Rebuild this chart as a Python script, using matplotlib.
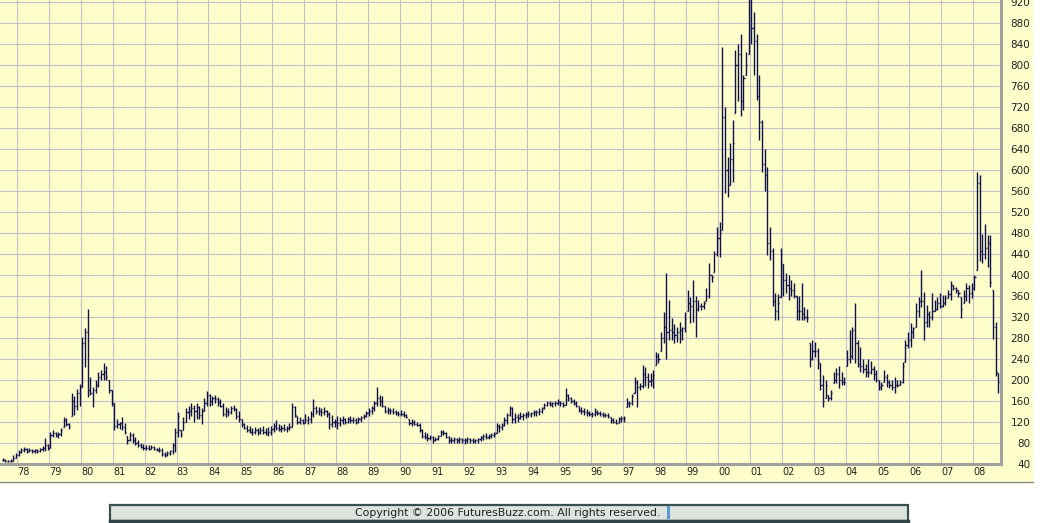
import numpy as np
import matplotlib.pyplot as plt
from matplotlib.patches import Rectangle
from matplotlib.lines import Line2D

## monthly bars, Jul 1977 .. Oct 2008
first_month = 1977 + 6 / 12.0

high = [
    50, 48, 47, 48, 56, 60,                                   # 1977 Jul-Dec
    66, 70, 71, 69, 70, 68, 68, 68, 70, 74, 88, 78,           # 1978
    100, 104, 100, 100, 108, 128, 126, 118, 175, 168, 182, 192,  # 1979
    281, 298, 334, 205, 186, 199, 214, 218, 231, 225, 199, 180,  # 1980
    155, 125, 120, 128, 117, 92, 100, 98, 90, 85, 80, 78,     # 1981
    75, 76, 76, 74, 70, 72, 70, 62, 64, 66, 80, 108,          # 1982
    138, 104, 128, 145, 150, 155, 152, 155, 150, 145, 165, 178,  # 1983
    172, 168, 170, 167, 162, 155, 148, 146, 150, 152, 145, 140,  # 1984
    125, 118, 114, 112, 108, 110, 108, 110, 112, 108, 110, 112,  # 1985
    118, 122, 116, 114, 116, 112, 118, 156, 150, 130, 128, 125,  # 1986
    135, 130, 140, 162, 150, 148, 145, 148, 142, 138, 132, 125,  # 1987
    130, 128, 130, 126, 128, 130, 128, 126, 128, 130, 134, 140,  # 1988
    145, 150, 160, 186, 170, 168, 150, 148, 146, 145, 142, 140,  # 1989
    142, 140, 135, 125, 124, 122, 120, 118, 105, 100, 98, 95,    # 1990
    92, 90, 94, 104, 104, 100, 92, 90, 90, 88, 90, 88,        # 1991
    88, 90, 88, 88, 86, 88, 92, 96, 98, 96, 98, 100,          # 1992
    118, 115, 118, 128, 136, 150, 148, 136, 135, 138, 136, 138,  # 1993
    140, 138, 142, 142, 145, 148, 156, 160, 160, 158, 160, 162,  # 1994
    160, 158, 183, 172, 166, 162, 160, 150, 148, 146, 144, 140,  # 1995
    138, 145, 142, 140, 138, 136, 136, 128, 126, 124, 128, 130,  # 1996
    130, 164, 160, 173, 205, 199, 193, 228, 224, 212, 212, 218,  # 1997
    252, 250, 290, 328, 403, 351, 318, 305, 300, 310, 300, 328,  # 1998
    370, 358, 390, 360, 351, 345, 350, 375, 421, 400, 445, 490,  # 1999
    500, 834, 719, 624, 650, 694, 827, 840, 859, 780, 824, 960,  # 2000
    1000, 900, 859, 780, 694, 640, 605, 490, 450, 364, 362, 450,  # 2001
    420, 403, 400, 390, 384, 360, 360, 384, 338, 335, 269, 275,  # 2002
    272, 260, 231, 208, 199, 170, 180, 215, 221, 225, 215, 205,  # 2003
    256, 294, 300, 345, 275, 262, 240, 230, 240, 235, 225, 218,  # 2004
    199, 196, 218, 210, 200, 199, 205, 199, 199, 234, 275, 290,  # 2005
    307, 300, 345, 358, 409, 367, 342, 330, 364, 352, 358, 364,  # 2006
    361, 361, 371, 387, 380, 377, 371, 358, 371, 384, 380, 384,  # 2007
    400, 596, 590, 478, 497, 475, 475, 370, 310, 212,           # 2008 Jan-Oct
]

low = [
    44, 42, 42, 42, 44, 50,
    55, 60, 62, 60, 61, 60, 60, 60, 62, 64, 64, 66,
    70, 90, 90, 88, 92, 110, 112, 106, 130, 132, 142, 150,
    186, 224, 167, 171, 148, 174, 186, 199, 199, 200, 174, 150,
    104, 108, 105, 104, 96, 78, 82, 80, 75, 72, 70, 66,
    66, 66, 67, 65, 64, 62, 54, 52, 54, 56, 58, 62,
    90, 90, 104, 119, 125, 130, 120, 125, 125, 115, 140, 150,
    150, 152, 155, 150, 148, 130, 128, 130, 135, 140, 125, 120,
    110, 106, 100, 98, 94, 96, 95, 97, 96, 94, 92, 94,
    100, 104, 102, 100, 102, 100, 104, 110, 128, 116, 116, 115,
    118, 116, 118, 128, 135, 132, 130, 132, 128, 105, 110, 110,
    106, 112, 116, 116, 118, 118, 117, 116, 118, 120, 124, 128,
    130, 135, 140, 150, 150, 148, 136, 134, 135, 134, 132, 130,
    130, 128, 126, 114, 112, 113, 112, 100, 88, 86, 82, 84,
    80, 82, 84, 92, 94, 88, 80, 79, 80, 79, 80, 79,
    78, 80, 80, 79, 79, 80, 82, 84, 86, 86, 88, 90,
    98, 100, 104, 112, 116, 130, 118, 118, 120, 124, 122, 126,
    128, 128, 130, 130, 132, 136, 144, 150, 150, 148, 150, 152,
    150, 148, 152, 160, 155, 152, 148, 138, 134, 132, 130, 130,
    128, 130, 132, 130, 128, 128, 126, 118, 117, 116, 118, 120,
    119, 148, 148, 152, 174, 148, 180, 184, 187, 184, 187, 184,
    228, 232, 255, 270, 240, 275, 275, 269, 272, 270, 275, 290,
    330, 307, 310, 281, 330, 332, 335, 350, 355, 385, 405, 435,
    433, 485, 555, 548, 570, 576, 707, 731, 701, 713, 780, 820,
    840, 780, 732, 656, 595, 560, 437, 428, 340, 313, 313, 357,
    360, 365, 351, 360, 355, 313, 313, 313, 313, 310, 224, 237,
    243, 220, 180, 148, 165, 160, 161, 193, 193, 183, 190, 190,
    225, 231, 240, 231, 224, 215, 212, 205, 205, 210, 200, 195,
    180, 180, 195, 186, 183, 180, 174, 186, 190, 193, 234, 260,
    262, 280, 300, 320, 339, 275, 300, 300, 313, 330, 332, 336,
    339, 342, 355, 352, 371, 364, 358, 317, 345, 349, 345, 355,
    370, 409, 425, 421, 430, 415, 377, 278, 207, 174,
]

close = [
    47, 45, 44, 45, 50, 56,
    62, 66, 67, 64, 66, 64, 65, 64, 67, 70, 76, 70,
    95, 98, 94, 96, 104, 122, 116, 112, 160, 150, 175, 185,
    270, 290, 180, 175, 180, 190, 205, 210, 215, 205, 180, 155,
    112, 115, 118, 110, 100, 84, 95, 85, 80, 76, 72, 70,
    70, 68, 72, 68, 66, 66, 58, 56, 60, 64, 75, 100,
    130, 96, 120, 138, 140, 145, 140, 148, 132, 140, 155, 170,
    160, 165, 162, 158, 150, 135, 140, 138, 145, 143, 130, 124,
    115, 108, 104, 100, 100, 103, 100, 104, 100, 98, 100, 106,
    112, 108, 106, 108, 106, 108, 110, 148, 132, 120, 122, 118,
    122, 125, 135, 145, 140, 140, 138, 140, 135, 115, 120, 120,
    118, 122, 124, 120, 124, 122, 122, 120, 124, 128, 130, 136,
    140, 146, 155, 165, 160, 150, 140, 142, 140, 138, 136, 134,
    135, 132, 128, 118, 120, 116, 114, 104, 92, 90, 88, 90,
    84, 86, 92, 100, 98, 90, 84, 84, 86, 84, 86, 84,
    84, 86, 84, 82, 84, 86, 90, 92, 90, 92, 94, 96,
    112, 110, 114, 122, 132, 145, 125, 128, 126, 130, 132, 134,
    134, 136, 138, 138, 140, 146, 152, 156, 154, 156, 156, 158,
    156, 152, 170, 165, 160, 155, 150, 142, 140, 138, 136, 134,
    134, 138, 136, 134, 132, 132, 130, 122, 120, 118, 124, 126,
    126, 155, 155, 168, 195, 185, 188, 210, 205, 198, 200, 208,
    245, 240, 280, 300, 290, 295, 290, 285, 290, 295, 298, 315,
    345, 340, 350, 335, 340, 340, 345, 360, 400, 395, 440, 470,
    480, 700, 600, 570, 620, 650, 800, 820, 730, 775, 800, 940,
    870, 845, 740, 690, 610, 590, 460, 445, 350, 330, 345, 440,
    390, 380, 375, 370, 360, 330, 330, 325, 320, 318, 240, 255,
    255, 235, 190, 160, 190, 165, 175, 200, 210, 200, 195, 195,
    240, 245, 295, 270, 230, 225, 220, 215, 215, 220, 210, 200,
    185, 190, 205, 195, 190, 185, 190, 190, 195, 225, 265, 275,
    290, 298, 330, 350, 350, 310, 325, 320, 330, 335, 345, 340,
    345, 355, 362, 380, 375, 370, 365, 335, 360, 375, 365, 375,
    395, 575, 445, 440, 450, 460, 385, 300, 215, 195,
]

years = list(range(1978, 2009))
year_labels = ['%02d' % (y % 100) for y in years]
price_levels = list(range(40, 921, 40))

W, H = 1041, 523
BG = '#ffffcc'
BAR = '#101048'

hi = np.array(high, dtype=float)
lo = np.array(low, dtype=float)
cl = np.array(close, dtype=float)
t = first_month + np.arange(len(cl)) / 12.0 + 1 / 24.0
op = np.clip(np.concatenate([[cl[0]], cl[:-1]]), lo, hi)

fig = plt.figure(figsize=(W / 100.0, H / 100.0), dpi=100, facecolor='white')

## yellow panel behind chart + axis labels
fig.patches.append(Rectangle((0, 1 - 481.0 / H), 1033.0 / W, 481.0 / H,
                             transform=fig.transFigure, facecolor=BG,
                             edgecolor='none', zorder=-5))
fig.lines.append(Line2D([0, 1033.0 / W], [1 - 481.5 / H, 1 - 481.5 / H],
                        transform=fig.transFigure, color='#8c8c70', lw=1,
                        zorder=-4))

ax = fig.add_axes([0, 1 - 464.0 / H, 1001.0 / W, 464.0 / H])
ax.set_zorder(1)
ax.set_facecolor(BG)
ax.set_xlim(1977.457, 2008.876)
ax.set_ylim(39.05, 922.9)

for s in ['left', 'top']:
    ax.spines[s].set_visible(False)
for s in ['right', 'bottom']:
    ax.spines[s].set_color('#a0a0a0')
    ax.spines[s].set_linewidth(2.2)

ax.set_xticks(years)
ax.set_xticklabels(year_labels, fontsize=7, ha='left', color='#222222')
ax.tick_params(axis='x', length=0, pad=2.5)

ax.yaxis.tick_right()
ax.set_yticks(price_levels)
ax.set_yticklabels([str(v) for v in price_levels], fontsize=7.5, color='#222222')
ax.tick_params(axis='y', length=0, pad=21)
for lbl in ax.get_yticklabels():
    lbl.set_ha('right')

ax.grid(color='#c2c0c8', lw=0.8)
ax.set_axisbelow(True)

## high-low bars with open/close ticks
dt = 0.035
ax.vlines(t, lo, hi, color=BAR, lw=1.0)
ax.hlines(op, t - dt, t, color=BAR, lw=1.0)
ax.hlines(cl, t, t + dt, color=BAR, lw=1.0)

## copyright banner
fig.patches.append(Rectangle((110.0 / W, 1 - 521.0 / H), 798.0 / W, 16.0 / H,
                             transform=fig.transFigure, facecolor='#dde4dd',
                             edgecolor='#3a4f4f', lw=1.6, zorder=1))
fig.lines.append(Line2D([110.0 / W, 908.0 / W], [1 - 521.0 / H, 1 - 521.0 / H],
                        transform=fig.transFigure, color='#2f4444', lw=2.5,
                        zorder=2))
fig.text(508.0 / W, 1 - 512.5 / H,
         'Copyright \u00a9 2006 FuturesBuzz.com. All rights reserved.',
         fontsize=7.8, ha='center', va='center', color='#222222')
fig.patches.append(Rectangle((667.0 / W, 1 - 519.0 / H), 3.0 / W, 13.0 / H,
                             transform=fig.transFigure, facecolor='#5b9bd5',
                             edgecolor='none', zorder=3))

fig.savefig('out.png', dpi=100, facecolor='white')
